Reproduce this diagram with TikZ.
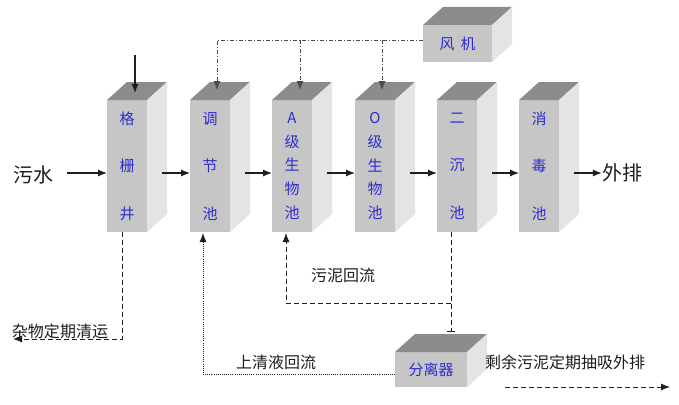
\documentclass[tikz,border=0pt]{standalone}
\usepackage{fontspec}
\newfontfamily\cjk{Noto Sans CJK SC}
\usetikzlibrary{calc,arrows.meta}
\definecolor{frontc}{RGB}{198,198,198}
\definecolor{topc}{RGB}{140,140,140}
\definecolor{sidec}{RGB}{228,228,228}
\definecolor{labblue}{RGB}{45,45,205}
\definecolor{ink}{RGB}{30,30,30}
\newcommand\drawcuboid[1]{%
  \fill[topc] (#1.north west) -- ++(20,-18) -- ($(#1.north east)+(20,-18)$) -- (#1.north east) -- cycle;
  \fill[sidec] (#1.north east) -- ++(20,-18) -- ($(#1.south east)+(20,-18)$) -- (#1.south east) -- cycle;}
\tikzset{
  pillar/.style={fill=frontc, minimum width=40pt, minimum height=132pt, inner sep=0pt, outer sep=0pt,
    text=labblue, align=center},
  three/.style={pillar, font=\cjk\fontsize{15}{47.5}\selectfont},
  five/.style={pillar, font=\cjk\fontsize{15}{23.75}\selectfont},
  flatbox/.style={fill=frontc, inner sep=0pt, outer sep=0pt, text=labblue, font=\cjk\fontsize{15}{18}\selectfont},
  lab/.style={inner sep=0pt, text=ink, font=\cjk\fontsize{16}{18}\selectfont},
  biglab/.style={inner sep=0pt, text=ink, font=\cjk\fontsize{20}{22}\selectfont},
  tip/.style={-{Latex[length=9pt,width=7pt]}},
  flow/.style={tip, draw=ink, line width=1.2pt},
  air/.style={tip, draw=ink!80, line width=0.8pt, dash pattern=on 4pt off 2pt on 1pt off 2pt},
  sludge/.style={draw=ink, line width=1pt, dash pattern=on 5pt off 3pt},
  clear/.style={draw=ink, line width=0.9pt, dash pattern=on 0.9pt off 1.2pt},
}
\begin{document}
\begin{tikzpicture}[x=1pt,y=-1pt]
\useasboundingbox (0,0) rectangle (679,404);
\fill[white] (0,0) rectangle (679,404);
% pillars
\node[three] (p1) at (127,166) {格\\栅\\井};
\node[three] (p2) at (210,166) {调\\节\\池};
\node[five]  (p3) at (292,166) {A\\级\\生\\物\\池};
\node[five]  (p4) at (375,166) {O\\级\\生\\物\\池};
\node[three] (p5) at (457,166) {二\\沉\\池};
\node[three] (p6) at (539,166) {消\\毒\\池};
\foreach \p in {p1,p2,p3,p4,p5,p6}{\drawcuboid{\p}}
% blower and separator
\node[flatbox, minimum width=69pt, minimum height=37pt] (fan) at (457.5,43.5) {风\hspace{6pt}机};
\drawcuboid{fan}
\node[flatbox, minimum width=72pt, minimum height=35pt] (sep) at (431,369.5) {分离器};
\drawcuboid{sep}
% labels
\node[biglab] (ws) at (33,175) {污水};
\node[biglab] (out) at (622,173) {外排};
\node[lab] (zw) at (60,331) {杂物定期清运};
\node[lab] (wn) at (343,275) {污泥回流};
\node[lab] (sq) at (276,362) {上清液回流};
\node[lab] (sy) at (565,362) {剩余污泥定期抽吸外排};
% main flow
\coordinate (in1) at (135,55);
\draw[flow] (in1) -- (135,93);
\draw[flow] ($(ws.east)+(14,-2)$) -- ($(p1.west)+(0,7)$);
\draw[flow] ($(p1.east)+(15,7)$) -- ($(p2.west)+(0,7)$);
\draw[flow] ($(p2.east)+(15,7)$) -- ($(p3.west)+(0,7)$);
\draw[flow] ($(p3.east)+(15,7)$) -- ($(p4.west)+(0,7)$);
\draw[flow] ($(p4.east)+(15,7)$) -- ($(p5.west)+(0,7)$);
\draw[flow] ($(p5.east)+(15,7)$) -- ($(p6.west)+(0,7)$);
\draw[flow] ($(p6.east)+(15,7)$) -- ($(out.west)+(0,0)$);
% air
\coordinate (a2) at (217,90);
\coordinate (a3) at (300,90);
\coordinate (a4) at (382,90);
\draw[air] ($(fan.west)+(0,-3.5)$) -- (217,40) -- (a2);
\draw[air] (300,40) -- (a3);
\draw[air] (382,40) -- (a4);
% screenings
\coordinate (zwend) at (13,339);
\draw[sludge, tip] ($(p1.south)+(-5,0)$) -- (122,339) -- (zwend);
% supernatant return
\draw[clear, tip] ($(sep.west)+(0,4.5)$) -- (203,374) -- ($(p2.south)+(-7,1)$);
% sludge return
\coordinate (br) at (451,303);
\draw[sludge, -{Bar[width=8pt,line width=1pt]}] ($(p5.south)+(-6,0)$) -- ($(sep.north)+(20,-20)$);
\draw[sludge, tip] (br) -- (286,303) -- ($(p3.south)+(-6,1)$);
% excess sludge
\coordinate (e1) at (505,387);
\coordinate (e2) at (670,387);
\draw[sludge, tip] (e1) -- (e2);
\end{tikzpicture}
\end{document}
